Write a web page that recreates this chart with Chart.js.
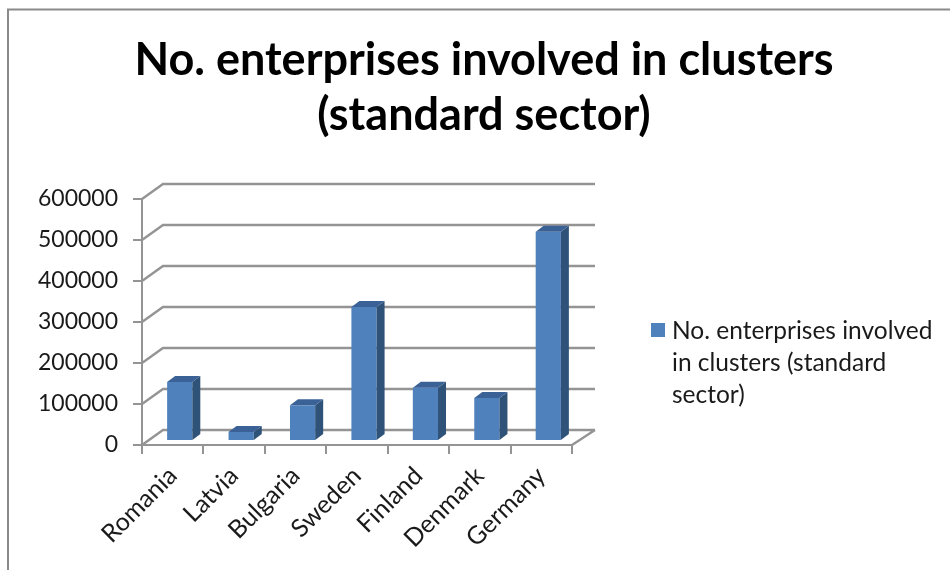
<!DOCTYPE html>
<html>
<head>
<meta charset="utf-8">
<script src="https://cdn.jsdelivr.net/npm/chart.js@4"></script>
<style>
  html, body { margin: 0; padding: 0; background: #fff; }
  #wrap { position: relative; width: 950px; height: 570px; overflow: hidden; }
  canvas { display: block; }
  #legend { position: absolute; left: 672px; top: 314px; width: 275px; font: 24.5px/32px Lato, sans-serif; color: #1a1a1a; }
  #legend i { position: absolute; left: -21px; top: 9px; width: 14px; height: 14px; background: #4f81bd; }
</style>
</head>
<body>
<div id="wrap">
  <canvas id="chart" width="950" height="570"></canvas>
  <div id="legend"><i></i>No. enterprises involved<br>in clusters (standard<br>sector)</div>
</div>
<script>
const categories = ["Romania", "Latvia", "Bulgaria", "Sweden", "Finland", "Denmark", "Germany"];
const enterprises = [144000, 22000, 87000, 327000, 130000, 105000, 510000];
const titleLines = ["No. enterprises involved in clusters", "(standard sector)"];
const seriesName = "No. enterprises involved in clusters (standard sector)";

const gridColor = "#949494";
const font = "Lato, sans-serif";

// fake 3D: back wall offset, and how far the bars sit in from the front
const wallX = 21, wallY = -15;
const barX = 7, barY = -4;
const sideX = 8, sideY = -6;

// empty box on the right, leaves room for the legend but the title still spans the page
const legendSpace = {
  position: "right",
  weight: 0,
  fullSize: false,
  z: 0,
  options: {},
  width: 378,
  height: 0,
  isHorizontal: () => false,
  update(w, h) { this.width = 378; this.height = h; },
  draw() {},
};

const box3d = {
  id: "box3d",
  beforeLayout(chart) {
    if (!chart.boxes.includes(legendSpace)) Chart.layouts.addBox(chart, legendSpace);
  },
  beforeDraw(chart) {
    // frame around the picture, only top and left are visible
    const ctx = chart.ctx;
    ctx.save();
    ctx.strokeStyle = "#8a8a8a";
    ctx.lineWidth = 2;
    ctx.beginPath();
    ctx.moveTo(8, 570);
    ctx.lineTo(8, 9.5);
    ctx.lineTo(950, 9.5);
    ctx.stroke();
    ctx.restore();
  },
  beforeDatasetsDraw(chart) {
    const ctx = chart.ctx;
    const { x, y } = chart.scales;
    ctx.save();
    ctx.strokeStyle = gridColor;
    ctx.lineWidth = 2.4;
    ctx.beginPath();
    y.ticks.forEach((t) => {
      const py = y.getPixelForValue(t.value);
      ctx.moveTo(x.left, py);
      ctx.lineTo(x.left + wallX, py + wallY);
      ctx.lineTo(x.right + wallX + 2, py + wallY);
    });
    // right edge of the floor
    ctx.moveTo(x.right, y.bottom);
    ctx.lineTo(x.right + wallX + 2, y.bottom + wallY);
    ctx.stroke();
    ctx.restore();
    // bars stand a little behind the front plane
    ctx.save();
    ctx.translate(barX, barY);
  },
  afterDatasetsDraw(chart) {
    const ctx = chart.ctx;
    chart.getDatasetMeta(0).data.forEach((bar) => {
      const left = bar.x - bar.width / 2;
      const right = bar.x + bar.width / 2;
      ctx.fillStyle = "#2f5279";
      ctx.beginPath();
      ctx.moveTo(right, bar.y);
      ctx.lineTo(right + sideX, bar.y + sideY);
      ctx.lineTo(right + sideX, bar.base + sideY);
      ctx.lineTo(right, bar.base);
      ctx.closePath();
      ctx.fill();
      ctx.fillStyle = "#3b6296";
      ctx.beginPath();
      ctx.moveTo(left, bar.y);
      ctx.lineTo(left + sideX, bar.y + sideY);
      ctx.lineTo(right + sideX, bar.y + sideY);
      ctx.lineTo(right, bar.y);
      ctx.closePath();
      ctx.fill();
    });
    ctx.restore();
  },
};

new Chart(document.getElementById("chart"), {
  type: "bar",
  plugins: [box3d],
  data: {
    labels: categories,
    datasets: [
      {
        label: seriesName,
        data: enterprises,
        backgroundColor: "#4f81bd",
        barPercentage: 0.41,
        categoryPercentage: 1,
        clip: false,
      },
    ],
  },
  options: {
    responsive: false,
    animation: false,
    layout: { padding: { left: 18, right: 0, top: 32, bottom: 0 } },
    plugins: {
      legend: { display: false },
      tooltip: { enabled: false },
      title: {
        display: true,
        text: titleLines,
        color: "#000",
        align: "center",
        font: { family: font, size: 45, weight: "bold", lineHeight: 1.244 },
        padding: { top: 0, bottom: 55 },
        fullSize: true,
      },
    },
    scales: {
      x: {
        grid: { drawOnChartArea: false, color: gridColor, lineWidth: 2, tickLength: 9 },
        border: { color: gridColor, width: 2 },
        ticks: {
          color: "#1a1a1a",
          font: { family: font, size: 25 },
          minRotation: 45,
          maxRotation: 45,
          padding: 7,
        },
        afterFit: (s) => { s.height = 125; },
      },
      y: {
        min: 0,
        max: 600000,
        grid: { drawOnChartArea: false, color: gridColor, lineWidth: 2, tickLength: 9 },
        border: { color: gridColor, width: 2 },
        ticks: {
          stepSize: 100000,
          color: "#1a1a1a",
          font: { family: font, size: 23 },
          padding: 15,
          callback: (v) => String(v),
        },
        afterFit: (s) => { s.width = 124; },
      },
    },
  },
});
</script>
</body>
</html>
